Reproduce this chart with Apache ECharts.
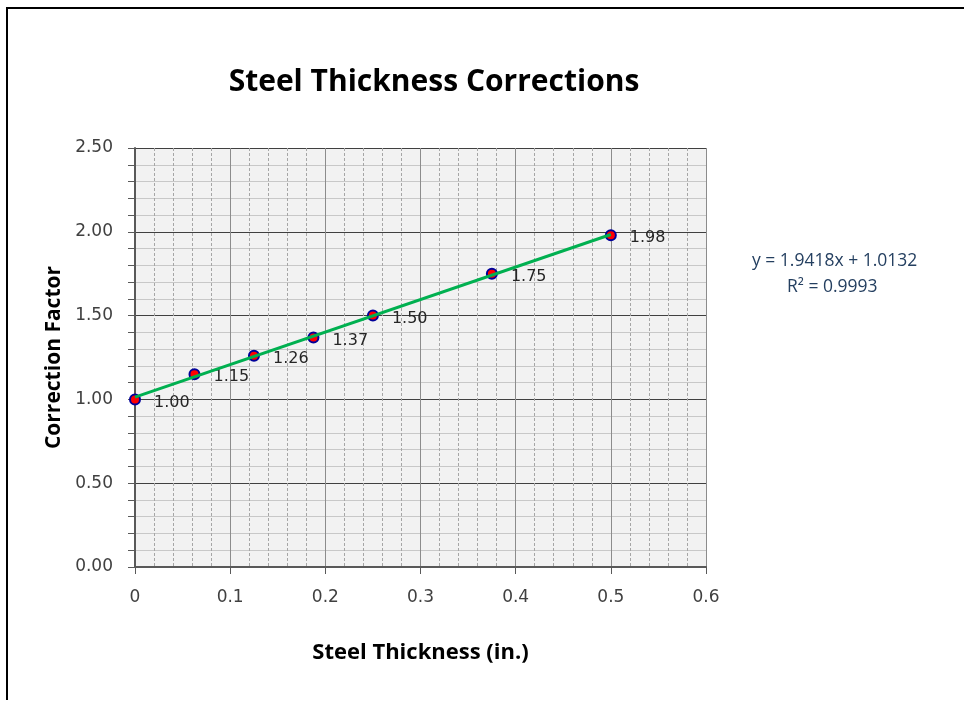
<!DOCTYPE html>
<html>
<head>
<meta charset="utf-8">
<script src="https://cdn.jsdelivr.net/npm/echarts@6/dist/echarts.min.js"></script>
<style>
  html, body { margin: 0; padding: 0; background: #fff; }
  #chart { width: 964px; height: 702px; }
</style>
</head>
<body>
<div id="chart"></div>
<script>
// measured points
const thickness = [0, 0.0625, 0.125, 0.1875, 0.25, 0.375, 0.5];
const correction = [1.00, 1.15, 1.26, 1.37, 1.50, 1.75, 1.98];

// linear trendline ends (y = 1.9418x + 1.0132)
const trendX = [0, 0.5];
const trendY = [1.0132, 1.9841];

const trendLabel = ["y = 1.9418x + 1.0132", "R² = 0.9993"];

const labelFont = "DejaVu Sans";
const boldFont = "Open Sans";

const chart = echarts.init(document.getElementById("chart"));

chart.setOption({
  animation: false,
  title: {
    text: "Steel Thickness Corrections",
    left: 429,
    top: 62,
    textAlign: "center",
    textStyle: { fontFamily: boldFont, fontSize: 30, fontWeight: "bold", color: "#000" }
  },
  grid: {
    left: 135, right: 258, top: 148, bottom: 135,
    show: true, backgroundColor: "#f2f2f2", borderWidth: 0
  },
  xAxis: {
    type: "value",
    min: 0, max: 0.6, interval: 0.1,
    name: "Steel Thickness (in.)",
    nameLocation: "middle",
    nameGap: 75,
    nameTextStyle: { fontFamily: boldFont, fontSize: 22, fontWeight: "bold", color: "#000" },
    axisLine: { show: true, onZero: false, lineStyle: { color: "#595959", width: 2 } },
    axisTick: { show: true, length: 7, lineStyle: { color: "#595959" } },
    axisLabel: { fontFamily: labelFont, fontSize: 17, color: "#404040", margin: 22 },
    splitLine: { show: true, lineStyle: { color: "#8c8c8c", width: 1 } },
    minorTick: { show: false, splitNumber: 5 },
    minorSplitLine: { show: true, lineStyle: { color: "#a6a6a6", type: [3, 2], width: 1 } }
  },
  yAxis: {
    type: "value",
    min: 0, max: 2.5, interval: 0.5,
    name: "Correction Factor",
    nameLocation: "middle",
    nameGap: 68,
    nameTextStyle: { fontFamily: boldFont, fontSize: 21, fontWeight: "bold", color: "#000" },
    axisLine: { show: true, lineStyle: { color: "#595959", width: 2 } },
    axisTick: { show: true, length: 7, lineStyle: { color: "#595959" } },
    minorTick: { show: true, splitNumber: 5, length: 7, lineStyle: { color: "#595959" } },
    axisLabel: {
      fontFamily: labelFont, fontSize: 17, color: "#404040", margin: 22,
      padding: [4, 0, 0, 0],
      formatter: v => v.toFixed(2)
    },
    splitLine: { show: true, lineStyle: { color: "#404040", width: 1 } },
    minorSplitLine: { show: true, lineStyle: { color: "#c8c8c8", width: 1 } }
  },
  series: [
    {
      type: "scatter",
      data: thickness.map((x, i) => [x, correction[i]]),
      symbol: "circle",
      symbolSize: 10,
      z: 3,
      itemStyle: { color: "#ff0000", borderColor: "#000099", borderWidth: 2, opacity: 1 },
      label: {
        show: true,
        position: "right",
        distance: 13,
        offset: [0, 3],
        fontFamily: labelFont,
        fontSize: 16,
        color: "#262626",
        formatter: p => p.value[1].toFixed(2)
      }
    },
    {
      type: "line",
      data: trendX.map((x, i) => [x, trendY[i]]),
      showSymbol: false,
      symbol: "none",
      z: 4,
      lineStyle: { color: "#00b050", width: 3 }
    }
  ],
  graphic: [
    {
      type: "polyline",
      shape: { points: [[7, 700], [7, 8], [964, 8]] },
      style: { stroke: "#000", lineWidth: 2, fill: null }
    },
    {
      type: "text",
      left: 752, top: 252,
      style: { text: trendLabel[0], fontFamily: boldFont, fontSize: 17.5, fill: "#243f60" }
    },
    {
      type: "text",
      left: 787, top: 278,
      style: { text: trendLabel[1], fontFamily: boldFont, fontSize: 17.5, fill: "#243f60" }
    }
  ]
});
</script>
</body>
</html>
